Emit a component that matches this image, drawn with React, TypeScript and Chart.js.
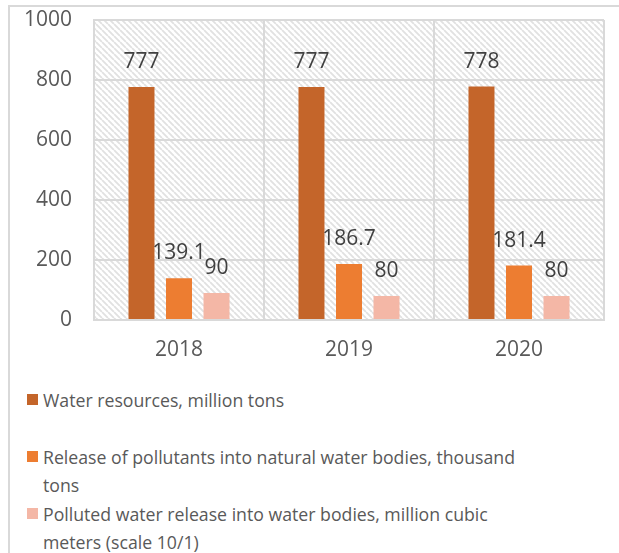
import React, { useEffect, useRef } from "react";
import { Chart, registerables } from "chart.js";

Chart.register(...registerables);

const categories = ["2018", "2019", "2020"];
const waterResources = [777, 777, 778];
const pollutantRelease = [139.1, 186.7, 181.4];
const pollutedWater = [90, 80, 80];
const seriesNames = [
  "Water resources, million tons",
  "Release of pollutants into natural water bodies, thousand tons",
  "Polluted water release into water bodies, million cubic meters (scale 10/1)",
];
const legendLines = [
  ["Water resources, million tons"],
  ["Release of pollutants into natural water bodies, thousand", "tons"],
  ["Polluted water release into water bodies, million cubic", "meters (scale 10/1)"],
];
const colors = ["#C4652A", "#ED7D31", "#F4B7A6"];
const yTicks = [0, 200, 400, 600, 800, 1000];

const FONT = "'Open Sans', 'Noto Sans', sans-serif";

function makePattern(ctx: CanvasRenderingContext2D) {
  const s = 6;
  const c = document.createElement("canvas");
  c.width = s;
  c.height = s;
  const p = c.getContext("2d")!;
  p.fillStyle = "#ffffff";
  p.fillRect(0, 0, s, s);
  p.strokeStyle = "#e1e1e1";
  p.lineWidth = 1.8;
  p.beginPath();
  for (const k of [-s, 0, s]) {
    p.moveTo(k, 0);
    p.lineTo(k + s, s);
  }
  p.stroke();
  return ctx.createPattern(c, "repeat");
}

const hatchPlugin = {
  id: "hatchBg",
  beforeDraw(chart: any) {
    const { ctx, chartArea } = chart;
    const pat = makePattern(ctx);
    if (!pat) return;
    ctx.save();
    ctx.fillStyle = pat;
    ctx.fillRect(chartArea.left, chartArea.top, chartArea.right - chartArea.left, chartArea.bottom - chartArea.top);
    ctx.restore();
  },
};

const labelPlugin = {
  id: "valueLabels",
  afterDatasetsDraw(chart: any) {
    const { ctx } = chart;
    ctx.save();
    ctx.font = `21px ${FONT}`;
    ctx.fillStyle = "#404040";
    ctx.textAlign = "center";
    ctx.textBaseline = "middle";
    chart.data.datasets.forEach((ds: any, i: number) => {
      const meta = chart.getDatasetMeta(i);
      meta.data.forEach((el: any, j: number) => {
        ctx.fillText(String(ds.data[j]), el.x, el.y - 25);
      });
    });
    ctx.restore();
  },
};

export default function App() {
  const ref = useRef<HTMLCanvasElement>(null);

  useEffect(() => {
    document.body.style.margin = "0";
    const chart = new Chart(ref.current!, {
      type: "bar",
      data: {
        labels: categories,
        datasets: [waterResources, pollutantRelease, pollutedWater].map((d, i) => ({
          label: seriesNames[i],
          data: d,
          backgroundColor: colors[i],
          borderWidth: 0,
          categoryPercentage: 0.662,
          barPercentage: 0.693,
        })),
      },
      options: {
        animation: false,
        responsive: false,
        maintainAspectRatio: false,
        layout: { padding: { top: 20, right: 15, left: 0, bottom: 0 } },
        plugins: {
          legend: { display: false },
          tooltip: { enabled: false },
        },
        scales: {
          x: {
            grid: { color: "#d9d9d9", lineWidth: 2, drawTicks: false, offset: true },
            border: { color: "#d9d9d9", width: 2 },
            ticks: { color: "#595959", font: { family: FONT, size: 21 }, padding: 17 },
            afterFit(scale: any) {
              scale.height = 50;
              scale.paddingLeft = 0;
              scale.paddingRight = 0;
            },
          },
          y: {
            min: 0,
            max: 1000,
            afterBuildTicks(scale: any) {
              scale.ticks = yTicks.map((v) => ({ value: v }));
            },
            grid: { color: "#d9d9d9", lineWidth: 2, drawTicks: false },
            border: { color: "#d9d9d9", width: 2 },
            ticks: {
              color: "#595959",
              font: { family: FONT, size: 21 },
              padding: 22,
              callback: (v: any) => String(v),
            },
            afterFit(scale: any) {
              scale.width = 94;
              scale.paddingTop = 0;
              scale.paddingBottom = 0;
            },
          },
        },
      },
      plugins: [hatchPlugin, labelPlugin],
    } as any);
    return () => chart.destroy();
  }, []);

  return (
    <div style={{ position: "relative", width: 619, height: 553, overflow: "hidden", background: "#fff" }}>
      <div
        style={{
          position: "absolute",
          left: 8,
          top: 5,
          width: 700,
          height: 700,
          border: "2px solid #d9d9d9",
          boxSizing: "border-box",
        }}
      />
      <canvas ref={ref} width={619} height={370} style={{ position: "absolute", left: 0, top: 0, width: 619, height: 370 }} />
      {legendLines.map((lines, i) => {
        const center = 400 + i * 57;
        return (
          <div key={i}>
            <div
              style={{
                position: "absolute",
                left: 27,
                top: center - 6,
                width: 11,
                height: 11,
                background: colors[i],
              }}
            />
            <div
              style={{
                position: "absolute",
                left: 43,
                top: center - 14.25,
                fontFamily: FONT,
                fontSize: 17.7,
                lineHeight: "28.5px",
                color: "#595959",
                whiteSpace: "nowrap",
              }}
            >
              {lines.map((l, k) => (
                <div key={k}>{l}</div>
              ))}
            </div>
          </div>
        );
      })}
    </div>
  );
}
